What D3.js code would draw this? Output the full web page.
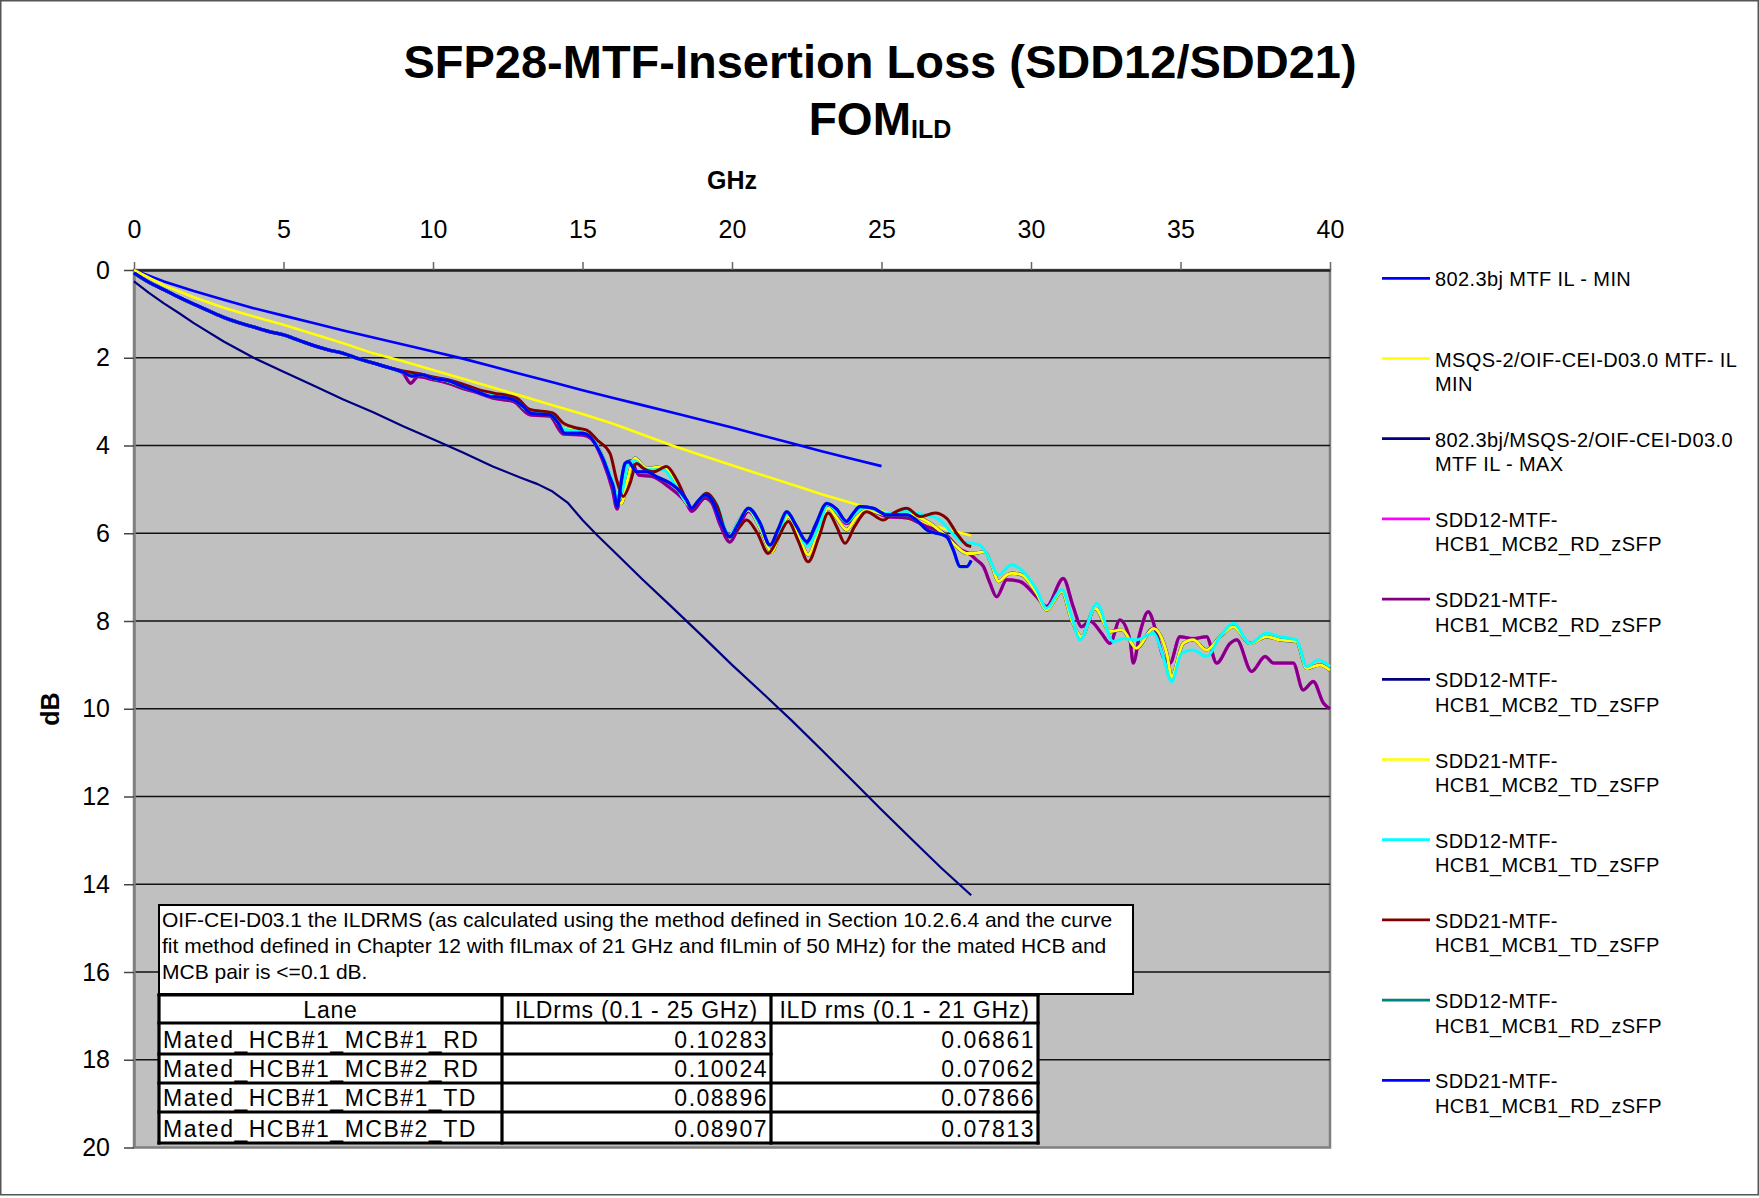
<!doctype html>
<html>
<head>
<meta charset="utf-8">
<script src="https://cdn.jsdelivr.net/npm/d3@7"></script>
<style>
  body { margin: 0; background: #fff; }
  text { font-family: "Liberation Sans", Arial, sans-serif; fill: #000; }
</style>
</head>
<body>
<svg id="chart" width="1759" height="1198"></svg>
<script>
// ---- values: [GHz, dB] ----
var xTicks = [0, 5, 10, 15, 20, 25, 30, 35, 40];
var yTicks = [0, 2, 4, 6, 8, 10, 12, 14, 16, 18, 20];

// 802.3bj MTF IL - MIN
var ilMin802 = [[0,0],[1,0.26],[2,0.48],[3,0.68],[4,0.87],[5,1.04],[6,1.21],[7,1.38],[8,1.54],[9,1.7],
  [10,1.86],[11,2.02],[12,2.2],[13,2.38],[14,2.56],[15,2.74],[16,2.91],[17,3.08],[18,3.25],[19,3.42],
  [20,3.59],[21,3.77],[22,3.95],[23,4.13],[24,4.3],[25,4.47]];

// MSQS-2/OIF-CEI-D03.0 MTF- IL MIN
var ilMinMsqs = [[0,0],[1,0.35],[2,0.62],[3,0.86],[4,1.06],[5,1.25],[6,1.46],[7,1.67],[8,1.9],[9,2.08],
  [10,2.28],[11,2.48],[12,2.68],[13,2.88],[14,3.08],[15,3.28],[16,3.5],[17,3.75],[18,4.0],[19,4.23],
  [20,4.45],[21,4.67],[22,4.89],[23,5.11],[24,5.31],[25,5.5],[26,5.7],[27,5.88],[28,6.05]];

// 802.3bj/MSQS-2/OIF-CEI-D03.0 MTF IL - MAX
var ilMax = [[0,0.26],[0.5,0.52],[1,0.76],[1.5,0.98],[2,1.21],[3,1.63],[4,2.0],[5,2.32],[6,2.63],[7,2.95],
  [8,3.24],[9,3.56],[10,3.86],[11,4.16],[12,4.48],[13,4.75],[13.5,4.88],[14,5.05],[14.5,5.3],[15,5.7],
  [15.5,6.05],[16,6.38],[17,7.05],[18,7.69],[19,8.34],[20,9.0],[21,9.63],[22,10.27],[23,10.94],
  [24,11.62],[25,12.3],[26,12.97],[27,13.63],[28,14.25]];

// low band where all measured traces sit on top of each other
var measuredLow = [[0,0.07],[0.5,0.28],[1,0.45],[1.5,0.62],[2,0.78],[2.5,0.93],[3,1.08],[3.5,1.2],
  [4,1.3],[4.5,1.4],[5,1.48],[5.5,1.6],[6,1.72],[6.5,1.82],[7,1.9],[7.5,2.02],[8,2.12],[8.5,2.22]];

var sdd21Mcb2Rd = measuredLow.concat([[9,2.35],[9.25,2.58],[9.5,2.43],[10,2.5],[10.5,2.58],[11,2.7],
  [11.5,2.8],[12,2.92],[12.7,3.0],[13.24,3.3],[13.9,3.33],[14.36,3.74],[15,3.76],[15.3,3.85],[15.7,4.38],
  [16.0,5.0],[16.16,5.45],[16.3,4.9],[16.45,4.4],[16.6,4.35],[16.9,4.68],[17.3,4.7],[17.9,4.95],
  [18.48,5.32],[18.65,5.5],[19.1,5.2],[19.32,5.3],[19.6,5.8],[19.93,6.2],[20.2,5.9],[20.55,5.5],
  [20.94,5.85],[21.27,6.32],[21.55,5.95],[21.83,5.55],[22.16,5.9],[22.5,6.25],[22.8,5.85],[23.17,5.38],
  [23.5,5.5],[23.83,5.78],[24.28,5.45],[24.73,5.5],[25.17,5.62],[25.84,5.65],[26.51,5.85],[27.18,6.05],
  [27.6,6.35],[28.0,6.5],[28.18,6.61],[28.41,6.76],[28.63,7.14],[28.85,7.45],[29.19,7.06],[29.63,7.1],
  [30.19,7.45],[30.52,7.67],[31.08,7.03],[31.41,7.67],[31.69,8.13],[31.97,8.0],[32.36,8.28],[32.64,8.51],
  [32.97,7.98],[33.31,8.43],[33.42,8.96],[33.64,8.28],[33.92,7.79],[34.2,8.28],[34.42,8.81],[34.65,8.96],
  [34.98,8.36],[35.42,8.4],[35.87,8.36],[36.21,8.96],[36.66,8.51],[36.88,8.43],[37.38,9.15],[37.83,8.81],
  [38.11,8.96],[38.77,8.96],[39.1,9.57],[39.44,9.38],[39.78,9.87],[40,10.0]]);
var sdd12Mcb2Rd = sdd21Mcb2Rd; // indistinguishable from SDD21 in the picture

var sdd21Mcb2Td = measuredLow.concat([[9,2.33],[9.3,2.4],[9.6,2.38],[10,2.47],[10.5,2.53],[11,2.66],
  [11.5,2.76],[12,2.86],[12.7,2.94],[13.2,3.2],[13.9,3.28],[14.36,3.6],[15,3.68],[15.3,3.8],[15.7,4.3],
  [16.0,4.85],[16.2,5.3],[16.3,5.32],[16.48,4.86],[16.75,4.29],[17.15,4.52],[17.7,4.48],[18.1,4.85],
  [18.48,5.32],[18.65,5.4],[19.15,5.09],[19.5,5.4],[19.82,6.0],[19.93,6.08],[20.2,5.75],[20.55,5.47],
  [20.95,5.9],[21.33,6.42],[21.6,6.0],[21.88,5.62],[22.2,6.0],[22.55,6.49],[22.9,5.95],[23.22,5.43],
  [23.5,5.65],[23.83,5.92],[24.15,5.65],[24.5,5.47],[25.17,5.58],[25.84,5.54],[26.2,5.62],[26.62,5.77],
  [27.18,6.08],[27.5,6.3],[27.85,6.46],[28.07,6.46],[28.45,6.42],[28.7,6.75],[28.91,7.1],[29.19,6.95],
  [29.35,6.91],[29.69,6.95],[30.19,7.37],[30.52,7.75],[31.03,7.33],[31.36,7.98],[31.69,8.36],[32.14,7.71],
  [32.65,8.24],[33.03,8.2],[33.53,8.62],[34.09,8.17],[34.54,8.73],[34.7,9.27],[35.09,8.51],[35.42,8.43],
  [35.87,8.66],[36.32,8.36],[36.77,8.13],[37.32,8.51],[37.88,8.36],[38.33,8.43],[38.88,8.47],[39.22,9.08],
  [39.66,9.0],[40,9.12]]);
var sdd12Mcb2Td = sdd21Mcb2Td; // hidden under the SDD21 trace

var sdd12Mcb1Td = measuredLow.concat([[9,2.33],[9.3,2.4],[9.6,2.38],[10,2.47],[10.5,2.53],[11,2.66],
  [11.5,2.76],[12,2.86],[12.7,2.94],[13.2,3.22],[13.9,3.28],[14.36,3.62],[15,3.7],[15.3,3.8],[15.7,4.3],
  [16.0,4.8],[16.2,5.25],[16.35,5.0],[16.5,4.45],[16.75,4.35],[17.15,4.55],[17.7,4.55],[18.1,4.9],
  [18.48,5.3],[18.65,5.4],[19.15,5.1],[19.5,5.35],[19.9,6.05],[20.2,5.75],[20.55,5.45],[20.95,5.85],
  [21.3,6.3],[21.6,5.95],[21.85,5.55],[22.2,5.9],[22.5,6.3],[22.9,5.85],[23.2,5.35],[23.5,5.5],
  [23.83,5.75],[24.2,5.5],[24.5,5.42],[25.17,5.55],[25.84,5.5],[26.2,5.55],[26.62,5.6],[26.96,5.7],
  [27.3,5.95],[27.7,6.2],[28.07,6.23],[28.29,6.27],[28.57,6.53],[28.91,6.95],[29.35,6.72],[29.69,6.84],
  [30.19,7.29],[30.52,7.71],[31.03,7.29],[31.36,7.9],[31.64,8.43],[32.2,7.6],[32.75,8.47],[33.1,8.4],
  [33.53,8.43],[34.09,8.28],[34.42,8.81],[34.7,9.38],[35.04,8.73],[35.42,8.66],[35.87,8.81],[36.32,8.36],
  [36.77,8.05],[37.32,8.51],[37.88,8.28],[38.33,8.36],[38.88,8.43],[39.22,9.04],[39.61,8.89],[40,9.04]]);

var sdd21Mcb1Td = measuredLow.concat([[9,2.3],[9.5,2.36],[10,2.44],[10.5,2.5],[11,2.6],[11.5,2.72],
  [12,2.8],[12.8,2.92],[13.24,3.18],[14.0,3.26],[14.36,3.49],[14.8,3.6],[15.14,3.65],[15.5,3.88],
  [15.92,4.18],[16.14,4.78],[16.36,5.16],[16.59,4.86],[16.81,4.41],[17.03,4.52],[17.37,4.6],[17.81,4.48],
  [18.15,4.78],[18.48,5.24],[18.65,5.43],[19.15,5.09],[19.49,5.36],[19.88,6.08],[20.2,5.9],[20.49,5.7],
  [20.85,6.0],[21.21,6.46],[21.55,6.1],[21.88,5.73],[22.2,6.15],[22.55,6.65],[22.9,6.1],[23.22,5.54],
  [23.5,5.85],[23.78,6.23],[24.1,5.85],[24.5,5.51],[25.06,5.7],[25.4,5.54],[25.84,5.43],[26.29,5.62],
  [26.79,5.54],[27.18,5.66],[27.51,6.0],[27.85,6.27],[28,6.3]]);

var sdd21Mcb1Rd = measuredLow.concat([[9,2.33],[9.3,2.42],[9.6,2.38],[10,2.47],[10.5,2.52],[11,2.66],
  [11.5,2.78],[11.9,2.88],[12.3,2.9],[12.7,2.96],[13,3.1],[13.3,3.27],[13.9,3.3],[14.2,3.5],[14.4,3.72],
  [15,3.72],[15.25,3.8],[15.5,4.05],[15.7,4.33],[15.9,4.7],[16.03,4.94],[16.16,5.39],[16.3,4.8],
  [16.42,4.41],[16.53,4.37],[16.81,4.6],[17.15,4.6],[17.5,4.72],[17.93,4.86],[18.2,5.0],[18.48,5.24],
  [18.65,5.43],[18.85,5.28],[19.1,5.13],[19.32,5.24],[19.6,5.7],[19.93,6.08],[20.2,5.8],[20.55,5.43],
  [20.94,5.77],[21.27,6.27],[21.55,5.9],[21.83,5.51],[22.16,5.84],[22.5,6.19],[22.8,5.8],[23.17,5.32],
  [23.5,5.45],[23.83,5.73],[24.05,5.55],[24.28,5.39],[24.73,5.43],[25.17,5.58],[25.84,5.58],[26.2,5.72],
  [26.51,5.92],[27.18,6.08],[27.4,6.38],[27.63,6.76],[27.85,6.76],[28,6.62]]);
var sdd12Mcb1Rd = sdd21Mcb1Rd; // hidden under the SDD21 trace

var legendLabels = [
  ["802.3bj MTF IL - MIN"],
  ["MSQS-2/OIF-CEI-D03.0 MTF- IL", "MIN"],
  ["802.3bj/MSQS-2/OIF-CEI-D03.0", "MTF IL - MAX"],
  ["SDD12-MTF-", "HCB1_MCB2_RD_zSFP"],
  ["SDD21-MTF-", "HCB1_MCB2_RD_zSFP"],
  ["SDD12-MTF-", "HCB1_MCB2_TD_zSFP"],
  ["SDD21-MTF-", "HCB1_MCB2_TD_zSFP"],
  ["SDD12-MTF-", "HCB1_MCB1_TD_zSFP"],
  ["SDD21-MTF-", "HCB1_MCB1_TD_zSFP"],
  ["SDD12-MTF-", "HCB1_MCB1_RD_zSFP"],
  ["SDD21-MTF-", "HCB1_MCB1_RD_zSFP"]
];

var noteLines = [
  "OIF-CEI-D03.1 the ILDRMS (as calculated using the method defined in Section 10.2.6.4 and the curve",
  "fit method defined in Chapter 12 with fILmax of 21 GHz and fILmin of 50 MHz) for the mated HCB and",
  "MCB pair is <=0.1 dB."
];
var tableHeader = ["Lane", "ILDrms (0.1 - 25 GHz)", "ILD rms (0.1 - 21 GHz)"];
var lanes = ["Mated_HCB#1_MCB#1_RD", "Mated_HCB#1_MCB#2_RD", "Mated_HCB#1_MCB#1_TD", "Mated_HCB#1_MCB#2_TD"];
var ild25 = ["0.10283", "0.10024", "0.08896", "0.08907"];
var ild21 = ["0.06861", "0.07062", "0.07866", "0.07813"];

// series in drawing order (later ones sit on top); limit lines are straight segments
var series = [
  {data: ilMin802,    color: "#0000ff", w: 2.6, smooth: false},
  {data: ilMinMsqs,   color: "#ffff00", w: 2.6, smooth: false},
  {data: ilMax,       color: "#000080", w: 2.2, smooth: false},
  {data: sdd12Mcb2Rd, color: "#ff00ff", w: 3.4, smooth: true},
  {data: sdd21Mcb2Rd, color: "#800080", w: 3,   smooth: true},
  {data: sdd12Mcb2Td, color: "#000080", w: 3.3, smooth: true},
  {data: sdd21Mcb2Td, color: "#ffff00", w: 3,   smooth: true},
  {data: sdd12Mcb1Td, color: "#00ffff", w: 3,   smooth: true},
  {data: sdd21Mcb1Td, color: "#800000", w: 3,   smooth: true},
  {data: sdd12Mcb1Rd, color: "#008080", w: 3.3, smooth: true},
  {data: sdd21Mcb1Rd, color: "#0000ff", w: 3,   smooth: true}
];

// ---- layout ----
var svg = d3.select("#chart");
var plotLeft = 134, plotRight = 1330, plotTop = 270, plotBottom = 1147.5;

var x = d3.scaleLinear().domain([0, 40]).range([plotLeft, plotRight]);
var y = d3.scaleLinear().domain([0, 20]).range([plotTop, plotBottom]);

// outer border of the chart
svg.append("rect")
   .attr("x", 0.75).attr("y", 0.75)
   .attr("width", 1757.5).attr("height", 1194)
   .attr("fill", "#fff").attr("stroke", "#555").attr("stroke-width", 1.5);

// titles
svg.append("text")
   .attr("x", 880).attr("y", 78)
   .attr("text-anchor", "middle")
   .attr("font-size", "47px").attr("font-weight", "bold")
   .text("SFP28-MTF-Insertion Loss (SDD12/SDD21)");

var fom = svg.append("text")
   .attr("x", 880).attr("y", 135)
   .attr("text-anchor", "middle")
   .attr("font-size", "46px").attr("font-weight", "bold")
   .text("FOM");
fom.append("tspan").attr("font-size", "25px").attr("dy", 3).text("ILD");

svg.append("text")
   .attr("x", (plotLeft + plotRight) / 2).attr("y", 189)
   .attr("text-anchor", "middle")
   .attr("font-size", "25px").attr("font-weight", "bold")
   .text("GHz");

svg.append("text")
   .attr("transform", "translate(59,709) rotate(-90)")
   .attr("text-anchor", "middle")
   .attr("font-size", "25px").attr("font-weight", "bold")
   .text("dB");

// plot area
svg.append("rect")
   .attr("x", plotLeft).attr("y", plotTop)
   .attr("width", plotRight - plotLeft).attr("height", plotBottom - plotTop)
   .attr("fill", "#c0c0c0").attr("stroke", "#808080").attr("stroke-width", 2.5);

svg.append("g").selectAll("line")
   .data(yTicks.filter(function(d) { return d > 0 && d < 20; }))
   .join("line")
   .attr("x1", plotLeft).attr("x2", plotRight)
   .attr("y1", function(d) { return y(d); })
   .attr("y2", function(d) { return y(d); })
   .attr("stroke", "#111").attr("stroke-width", 1.4);

// axes
var xAxis = svg.append("g")
   .attr("transform", "translate(0," + plotTop + ")")
   .call(d3.axisTop(x).tickValues(xTicks).tickSize(8).tickSizeOuter(0).tickPadding(24));
xAxis.select(".domain").attr("stroke", "#222").attr("stroke-width", 2.5);
xAxis.selectAll(".tick line").attr("stroke", "#666").attr("stroke-width", 1.5);
xAxis.selectAll("text").attr("font-size", "25px").attr("font-family", "Liberation Sans, Arial, sans-serif");

var yAxis = svg.append("g")
   .attr("transform", "translate(" + plotLeft + ",0)")
   .call(d3.axisLeft(y).tickValues(yTicks).tickSize(10).tickSizeOuter(0).tickPadding(14));
yAxis.select(".domain").attr("stroke", "#808080").attr("stroke-width", 2.5);
yAxis.selectAll(".tick line").attr("stroke", "#444").attr("stroke-width", 1.5);
yAxis.selectAll("text").attr("font-size", "25px").attr("font-family", "Liberation Sans, Arial, sans-serif");

// curves
var straight = d3.line()
   .x(function(d) { return x(d[0]); })
   .y(function(d) { return y(d[1]); });
var smooth = d3.line()
   .curve(d3.curveMonotoneX)
   .x(function(d) { return x(d[0]); })
   .y(function(d) { return y(d[1]); });

svg.append("g").selectAll("path")
   .data(series)
   .join("path")
   .attr("d", function(s) { return s.smooth ? smooth(s.data) : straight(s.data); })
   .attr("fill", "none")
   .attr("stroke", function(s) { return s.color; })
   .attr("stroke-width", function(s) { return s.w; })
   .attr("stroke-linejoin", "round");

// legend
var legend = svg.append("g");
legendLabels.forEach(function(lines, i) {
  var ly = 278.3 + i * 80.2;
  legend.append("line")
     .attr("x1", 1382).attr("x2", 1430)
     .attr("y1", ly).attr("y2", ly)
     .attr("stroke", series[i].color).attr("stroke-width", 2.7);
  var t = legend.append("text")
     .attr("x", 1435).attr("y", ly + 8)
     .attr("font-size", "20px").attr("letter-spacing", "0.4px");
  lines.forEach(function(s, k) {
    t.append("tspan").attr("x", 1435).attr("dy", k === 0 ? 0 : 24.5).text(s);
  });
});

// note box
svg.append("rect")
   .attr("x", 159).attr("y", 905)
   .attr("width", 974).attr("height", 89)
   .attr("fill", "#fff").attr("stroke", "#000").attr("stroke-width", 2);
noteLines.forEach(function(s, i) {
  svg.append("text")
     .attr("x", 162).attr("y", 927 + i * 26)
     .attr("font-size", "21px")
     .text(s);
});

// ILDrms table
var colX = [159, 502, 771, 1038];
var rowY = [995, 1023, 1054, 1083, 1112, 1143];
var table = svg.append("g");
table.append("rect")
   .attr("x", colX[0]).attr("y", rowY[0])
   .attr("width", colX[3] - colX[0]).attr("height", rowY[5] - rowY[0])
   .attr("fill", "#fff");

var tStyle = function(sel) {
  return sel.attr("font-size", "23px").attr("letter-spacing", "1.5px");
};
tableHeader.forEach(function(h, c) {
  tStyle(table.append("text"))
     .attr("x", (colX[c] + colX[c + 1]) / 2).attr("y", rowY[1] - 5)
     .attr("text-anchor", "middle")
     .attr("letter-spacing", "0.8px")
     .text(h);
});
lanes.forEach(function(lane, r) {
  var by = rowY[r + 2] - 6;
  tStyle(table.append("text")).attr("x", colX[0] + 4).attr("y", by).text(lane);
  tStyle(table.append("text")).attr("x", colX[2] - 3).attr("y", by)
     .attr("text-anchor", "end").text(ild25[r]);
  tStyle(table.append("text")).attr("x", colX[3] - 3).attr("y", by)
     .attr("text-anchor", "end").text(ild21[r]);
});

// table borders
var borders = [];
rowY.forEach(function(ry, r) {
  if (r === 2) {
    borders.push([colX[0], ry, colX[2], ry]);   // third column is merged here
  } else {
    borders.push([colX[0], ry, colX[3], ry]);
  }
});
colX.forEach(function(cx) { borders.push([cx, rowY[0], cx, rowY[5]]); });
table.selectAll("line.b")
   .data(borders)
   .join("line")
   .attr("class", "b")
   .attr("x1", function(d) { return d[0]; }).attr("y1", function(d) { return d[1]; })
   .attr("x2", function(d) { return d[2]; }).attr("y2", function(d) { return d[3]; })
   .attr("stroke", "#000").attr("stroke-width", 3.2)
   .attr("stroke-linecap", "square");
</script>
</body>
</html>
